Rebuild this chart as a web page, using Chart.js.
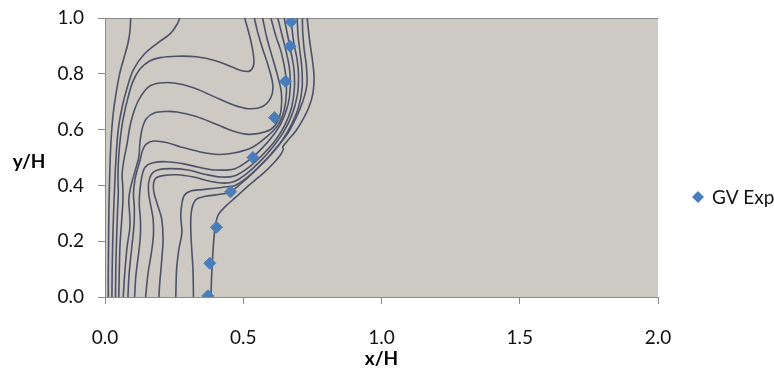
<!DOCTYPE html>
<html><head><meta charset="utf-8">
<script src="https://cdn.jsdelivr.net/npm/chart.js@4.4.0/dist/chart.umd.min.js"></script>
<style>html,body{margin:0;padding:0;background:#fff;}#wrap{width:774px;height:378px;position:relative;}</style>
</head><body><div id="wrap"><canvas id="c" width="774" height="378"></canvas></div>
<script>
// ---- data ----
const xTickValues = [0, 0.5, 1.0, 1.5, 2.0];
const yTickValues = [0, 0.2, 0.4, 0.6, 0.8, 1.0];
const seriesName = 'GV Exp';
const expX = [0.372, 0.379, 0.403, 0.454, 0.535, 0.613, 0.653, 0.669, 0.673];
const expY = [0.004, 0.121, 0.250, 0.377, 0.500, 0.643, 0.773, 0.899, 0.987];

// contour lines (x/H, y/H)
const contour1 = [[0.012,0],[0.012,0.1],[0.013,0.2],[0.014,0.3],[0.016,0.4],[0.019,0.5],[0.023,0.58],[0.03,0.66],[0.04,0.73],[0.053,0.80],[0.068,0.855],[0.082,0.905],[0.09,0.95],[0.093,1.0]];
const contour2 = [[0.025,0],[0.026,0.1],[0.028,0.2],[0.031,0.3],[0.035,0.4],[0.040,0.5],[0.048,0.6],[0.062,0.68],[0.08,0.75],[0.103,0.815],[0.14,0.868],[0.19,0.91],[0.237,0.945],[0.262,0.98],[0.27,1.0]];
const contour3 = [[0.038,0],[0.039,0.1],[0.041,0.18],[0.045,0.3],[0.048,0.37],[0.047,0.44],[0.050,0.51],[0.058,0.59],[0.068,0.65],[0.082,0.71],[0.100,0.77],[0.125,0.815],[0.16,0.845],[0.20,0.858],[0.26,0.863],[0.33,0.861],[0.40,0.847],[0.46,0.824],[0.50,0.81],[0.525,0.811],[0.538,0.835],[0.535,0.88],[0.522,0.94],[0.505,1.0]];
const contour4 = [[0.050,0],[0.051,0.06],[0.054,0.18],[0.060,0.27],[0.065,0.35],[0.064,0.40],[0.062,0.44],[0.068,0.49],[0.080,0.55],[0.092,0.62],[0.110,0.68],[0.130,0.72],[0.16,0.755],[0.20,0.767],[0.25,0.767],[0.32,0.75],[0.39,0.72],[0.46,0.69],[0.52,0.675],[0.57,0.683],[0.60,0.715],[0.607,0.76],[0.59,0.83],[0.57,0.89],[0.552,0.95],[0.54,1.0]];
const contour5 = [[0.066,0],[0.071,0.08],[0.080,0.18],[0.090,0.25],[0.089,0.30],[0.086,0.35],[0.092,0.39],[0.108,0.45],[0.122,0.50],[0.127,0.56],[0.135,0.605],[0.150,0.64],[0.18,0.66],[0.22,0.665],[0.26,0.663],[0.33,0.647],[0.40,0.62],[0.46,0.596],[0.52,0.583],[0.58,0.592],[0.615,0.615],[0.635,0.66],[0.638,0.73],[0.625,0.79],[0.605,0.86],[0.585,0.93],[0.57,1.0]];
const contour6 = [[0.083,0],[0.087,0.08],[0.097,0.18],[0.105,0.26],[0.106,0.32],[0.103,0.37],[0.108,0.42],[0.118,0.46],[0.127,0.49],[0.135,0.523],[0.148,0.547],[0.176,0.559],[0.225,0.553],[0.273,0.538],[0.345,0.52],[0.41,0.511],[0.466,0.516],[0.53,0.535],[0.58,0.57],[0.625,0.615],[0.648,0.67],[0.656,0.73],[0.653,0.80],[0.638,0.875],[0.618,0.935],[0.60,1.0]];
const contour7 = [[0.107,0],[0.112,0.08],[0.122,0.16],[0.128,0.22],[0.128,0.28],[0.124,0.33],[0.126,0.38],[0.133,0.43],[0.145,0.465],[0.17,0.48],[0.22,0.485],[0.28,0.478],[0.34,0.465],[0.40,0.455],[0.47,0.46],[0.52,0.49],[0.565,0.53],[0.605,0.575],[0.638,0.625],[0.662,0.69],[0.670,0.75],[0.667,0.82],[0.655,0.88],[0.64,0.94],[0.625,1.0]];
const contour8 = [[0.147,0],[0.155,0.08],[0.168,0.16],[0.175,0.22],[0.174,0.28],[0.165,0.33],[0.158,0.37],[0.158,0.41],[0.168,0.44],[0.19,0.455],[0.24,0.46],[0.30,0.455],[0.36,0.44],[0.42,0.43],[0.47,0.435],[0.52,0.465],[0.57,0.51],[0.615,0.56],[0.65,0.615],[0.675,0.68],[0.685,0.75],[0.683,0.82],[0.672,0.88],[0.66,0.94],[0.648,1.0]];
const contour9 = [[0.195,0],[0.198,0.05],[0.205,0.13],[0.21,0.21],[0.205,0.28],[0.19,0.33],[0.178,0.37],[0.175,0.40],[0.183,0.425],[0.21,0.435],[0.26,0.438],[0.32,0.43],[0.38,0.415],[0.43,0.408],[0.47,0.415],[0.51,0.44],[0.56,0.485],[0.605,0.535],[0.645,0.59],[0.675,0.65],[0.695,0.72],[0.70,0.79],[0.695,0.85],[0.683,0.91],[0.672,1.0]];
const contour10 = [[0.256,0],[0.259,0.1],[0.267,0.17],[0.278,0.23],[0.274,0.29],[0.278,0.335],[0.287,0.365],[0.31,0.38],[0.35,0.385],[0.40,0.39],[0.44,0.395],[0.47,0.40],[0.51,0.425],[0.555,0.465],[0.60,0.51],[0.64,0.56],[0.675,0.62],[0.70,0.68],[0.713,0.75],[0.712,0.82],[0.705,0.88],[0.698,0.94],[0.695,1.0]];
const contour11 = [[0.32,0],[0.318,0.1],[0.312,0.2],[0.31,0.27],[0.315,0.32],[0.33,0.35],[0.36,0.36],[0.40,0.366],[0.43,0.37],[0.454,0.377],[0.49,0.405],[0.535,0.445],[0.58,0.49],[0.62,0.535],[0.66,0.585],[0.69,0.64],[0.715,0.70],[0.73,0.76],[0.728,0.83],[0.72,0.89],[0.715,0.95],[0.714,1.0]];
const contour12 = [[0.383,0],[0.385,0.06],[0.388,0.12],[0.393,0.2],[0.40,0.26],[0.41,0.295],[0.436,0.325],[0.47,0.355],[0.52,0.40],[0.55,0.425],[0.58,0.45],[0.61,0.48],[0.635,0.51],[0.645,0.53],[0.643,0.538],[0.66,0.56],[0.69,0.595],[0.713,0.631],[0.737,0.679],[0.752,0.73],[0.756,0.79],[0.75,0.85],[0.74,0.92],[0.731,1.0]];
const contours = [contour1, contour2, contour3, contour4, contour5, contour6, contour7, contour8, contour9, contour10, contour11, contour12];

// ---- styles ----
const FONT = 'Lato, "Open Sans", "Liberation Sans", sans-serif';
const PLOT_BG = '#cdc9c3';
const AXIS = '#8a8a8a';
const LINE = '#4d5268';
const BLUE = '#4a7ebb';

const bgPlugin = {
  id: 'plotBg',
  beforeDraw(chart) {
    const {ctx, chartArea: a} = chart;
    ctx.save(); ctx.fillStyle = PLOT_BG; ctx.fillRect(a.left, a.top, a.right - a.left, a.bottom - a.top); ctx.restore();
  },
  afterDraw(chart) {
    const {ctx} = chart;
    ctx.save();
    ctx.fillStyle = '#000';
    ctx.font = 'bold 19px ' + FONT;
    ctx.textAlign = 'center'; ctx.textBaseline = 'middle';
    ctx.fillText('y/H', 29, 162);
    // legend
    const lx = 698, ly = 197, r = 6;
    ctx.fillStyle = BLUE;
    ctx.beginPath(); ctx.moveTo(lx - r, ly); ctx.lineTo(lx, ly - r); ctx.lineTo(lx + r, ly); ctx.lineTo(lx, ly + r); ctx.closePath(); ctx.fill();
    ctx.fillStyle = '#111';
    ctx.font = '19px ' + FONT;
    ctx.textAlign = 'left';
    ctx.fillText(seriesName, 712, ly + 1);
    ctx.restore();
  }
};

const datasets = [{
  label: seriesName,
  data: expX.map((x, i) => ({x, y: expY[i]})),
  pointStyle: 'rectRot', pointRadius: 6, pointHoverRadius: 6,
  backgroundColor: BLUE, borderColor: BLUE, borderWidth: 1, showLine: false
}];
contours.forEach((c, i) => datasets.push({
  label: 'contour ' + (i + 1),
  data: c.map(p => ({x: p[0], y: p[1]})),
  showLine: true, pointRadius: 0, pointHoverRadius: 0,
  borderColor: LINE, borderWidth: 1.6, tension: 0.35, fill: false
}));

new Chart(document.getElementById('c'), {
  type: 'scatter',
  data: {datasets},
  options: {
    responsive: false, animation: false, devicePixelRatio: 1,
    layout: {padding: {top: 18, right: 116, bottom: 0, left: 0}},
    plugins: {legend: {display: false}, tooltip: {enabled: false}},
    scales: {
      x: {
        type: 'linear', min: 0, max: 2,
        afterBuildTicks: s => { s.ticks = xTickValues.map(v => ({value: v})); },
        afterFit: s => { s.height = 81; },
        ticks: {color: '#111', font: {family: FONT, size: 19}, padding: 22, callback: v => Number(v).toFixed(1)},
        grid: {drawOnChartArea: false, tickLength: 7, tickColor: AXIS},
        border: {color: AXIS, width: 1},
        title: {display: true, text: 'x/H', color: '#000', font: {family: FONT, size: 19, weight: 'bold'}, padding: {top: 0, bottom: 8}}
      },
      y: {
        type: 'linear', min: 0, max: 1,
        afterBuildTicks: s => { s.ticks = yTickValues.map(v => ({value: v})); },
        afterFit: s => { s.width = 105; s.paddingTop = 0; s.paddingBottom = 0; },
        ticks: {color: '#111', font: {family: FONT, size: 19}, padding: 14, callback: v => Number(v).toFixed(1)},
        grid: {tickLength: 7, tickColor: AXIS, color: c => (c.tick && c.tick.value === 1) ? AXIS : 'rgba(0,0,0,0)'},
        border: {color: AXIS, width: 1}
      }
    }
  },
  plugins: [bgPlugin]
});
</script></body></html>
